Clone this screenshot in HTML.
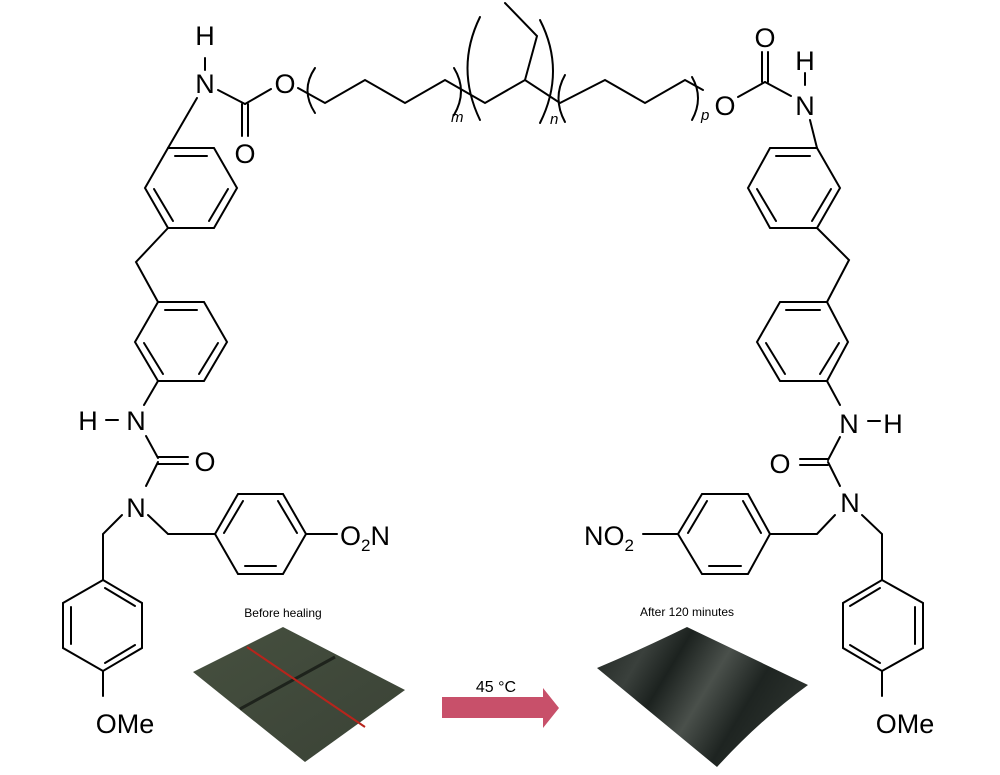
<!DOCTYPE html>
<html><head><meta charset="utf-8"><style>
html,body{margin:0;padding:0;background:#fff;}
svg{display:block;}
text{font-family:"Liberation Sans",Arial,sans-serif;fill:#000;}
</style></head><body>
<svg width="1000" height="775" viewBox="0 0 1000 775" xmlns="http://www.w3.org/2000/svg">
<defs>
<linearGradient id="g1" x1="0" y1="0" x2="1" y2="1">
<stop offset="0" stop-color="#46503f"/><stop offset="1" stop-color="#3a4236"/>
</linearGradient>
<linearGradient id="g2" x1="0" y1="0" x2="1" y2="0.4">
<stop offset="0" stop-color="#1e2420"/><stop offset="0.25" stop-color="#3a403c"/>
<stop offset="0.4" stop-color="#1c221f"/><stop offset="0.6" stop-color="#4a504b"/>
<stop offset="0.8" stop-color="#1e2421"/><stop offset="1" stop-color="#2a302c"/>
</linearGradient>
</defs>
<g stroke="#000" stroke-width="2" fill="none" stroke-linecap="round">
<line x1="205" y1="58" x2="205" y2="70"/>
<line x1="218" y1="90" x2="245" y2="104"/>
<line x1="245" y1="104" x2="271" y2="89"/>
<line x1="242" y1="104" x2="242" y2="136"/>
<line x1="248" y1="104" x2="248" y2="136"/>
<line x1="197" y1="98" x2="168" y2="148"/>
<polyline points="298,88 325,103 365,80 405,103 445,80 485,103 525,80 560,103 605,80 645,103 685,80 703,90"/>
<polyline points="525,80 537,36 505,3"/>
<path d="M315,68 Q300,90 315,113"/>
<path d="M454,68 Q468,91 454,115"/>
<path d="M480,17 Q455,68 480,120"/>
<path d="M540,20 Q566,71 540,123"/>
<path d="M565,75 Q552,98 565,122"/>
<path d="M692,77 Q704,98 692,120"/>
<polygon points="168,148 214,148 237,188 214,228 168,228 145,188"/>
<line x1="175" y1="156" x2="207" y2="156"/>
<line x1="154" y1="189" x2="173" y2="221"/>
<line x1="228" y1="189" x2="209" y2="221"/>
<polyline points="168,228 136,262 158,302"/>
<polygon points="158,302 204,302 227,342 204,381 158,381 135,342"/>
<line x1="165" y1="310" x2="197" y2="310"/>
<line x1="144" y1="343" x2="163" y2="374"/>
<line x1="218" y1="343" x2="199" y2="374"/>
<line x1="158" y1="381" x2="144" y2="405"/>
<line x1="106" y1="420" x2="118" y2="420"/>
<line x1="146" y1="436" x2="158" y2="458"/>
<line x1="158" y1="457" x2="188" y2="457"/>
<line x1="158" y1="464" x2="188" y2="464"/>
<line x1="158" y1="462" x2="146" y2="486"/>
<polyline points="148,515 168,534 215,534"/>
<polygon points="215,534 238,494 283,494 306,534 283,574 238,574"/>
<line x1="224" y1="533" x2="243" y2="501"/>
<line x1="278" y1="501" x2="297" y2="533"/>
<line x1="245" y1="566" x2="276" y2="566"/>
<line x1="306" y1="534" x2="337" y2="534"/>
<polyline points="122,515 103,534 103,580"/>
<polygon points="103,580 142,603 142,648 103,671 63,648 63,603"/>
<line x1="105" y1="588" x2="135" y2="606"/>
<line x1="71" y1="607" x2="71" y2="644"/>
<line x1="105" y1="663" x2="135" y2="645"/>
<line x1="103" y1="671" x2="103" y2="696"/>
<line x1="738" y1="97" x2="765" y2="82"/>
<line x1="762" y1="82" x2="762" y2="52"/>
<line x1="768" y1="82" x2="768" y2="52"/>
<line x1="765" y1="82" x2="791" y2="96"/>
<line x1="805" y1="73" x2="805" y2="85"/>
<line x1="810" y1="120" x2="817" y2="148"/>
<polygon points="817,148 770,148 748,188 770,228 817,228 840,188"/>
<line x1="776" y1="156" x2="810" y2="156"/>
<line x1="757" y1="189" x2="776" y2="221"/>
<line x1="831" y1="189" x2="812" y2="221"/>
<polyline points="817,228 849,260 827,302"/>
<polygon points="827,302 780,302 757,342 780,381 827,381 848,342"/>
<line x1="786" y1="310" x2="820" y2="310"/>
<line x1="766" y1="343" x2="785" y2="374"/>
<line x1="839" y1="343" x2="820" y2="374"/>
<line x1="827" y1="381" x2="840" y2="405"/>
<line x1="868" y1="421" x2="880" y2="421"/>
<line x1="840" y1="437" x2="828" y2="460"/>
<line x1="828" y1="459" x2="800" y2="459"/>
<line x1="828" y1="465" x2="800" y2="465"/>
<line x1="828" y1="462" x2="840" y2="486"/>
<polyline points="835,515 817,534 770,534"/>
<polygon points="770,534 748,494 702,494 678,534 702,574 748,574"/>
<line x1="761" y1="533" x2="743" y2="501"/>
<line x1="707" y1="501" x2="688" y2="533"/>
<line x1="709" y1="566" x2="741" y2="566"/>
<line x1="678" y1="534" x2="643" y2="534"/>
<polyline points="862,515 882,534 882,580"/>
<polygon points="882,580 923,603 923,648 882,671 843,648 843,603"/>
<line x1="880" y1="588" x2="850" y2="606"/>
<line x1="915" y1="607" x2="915" y2="644"/>
<line x1="880" y1="663" x2="850" y2="645"/>
<line x1="882" y1="671" x2="882" y2="696"/>
</g>
<g font-size="27" text-anchor="middle">
<text x="205" y="45">H</text>
<text x="205" y="93">N</text>
<text x="285" y="93">O</text>
<text x="245" y="163">O</text>
<text x="88" y="430">H</text>
<text x="136" y="430">N</text>
<text x="205" y="471">O</text>
<text x="136" y="517">N</text>
<text x="125" y="733">OMe</text>
<text x="725" y="115">O</text>
<text x="765" y="47">O</text>
<text x="805" y="70">H</text>
<text x="805" y="115">N</text>
<text x="849" y="433">N</text>
<text x="893" y="433">H</text>
<text x="780" y="473">O</text>
<text x="850" y="512">N</text>
<text x="905" y="733">OMe</text>
</g>
<text x="340" y="545" font-size="27">O<tspan font-size="17" dy="6">2</tspan><tspan dy="-6">N</tspan></text>
<text x="584" y="545" font-size="27">NO<tspan font-size="17" dy="6">2</tspan></text>
<g font-size="15" font-style="italic">
<text x="451" y="122">m</text>
<text x="550" y="124">n</text>
<text x="701" y="120">p</text>
</g>
<text x="283" y="617" font-size="12" text-anchor="middle">Before healing</text>
<polygon points="283,627 405,690 305,762 193,672" fill="url(#g1)"/>
<line x1="240" y1="709" x2="335" y2="657" stroke="#1e231c" stroke-width="3"/>
<line x1="247" y1="647" x2="365" y2="727" stroke="#b8241c" stroke-width="2"/>
<text x="687" y="616" font-size="12" text-anchor="middle">After 120 minutes</text>
<path d="M597,668 Q640,650 687,627 L808,685 Q760,720 717,767 Z" fill="url(#g2)"/>
<polygon points="442,697 543,697 543,688 559,708 543,728 543,718 442,718" fill="#c8506a"/>
<text x="496" y="692" font-size="16" text-anchor="middle">45 °C</text>
</svg>
</body></html>
